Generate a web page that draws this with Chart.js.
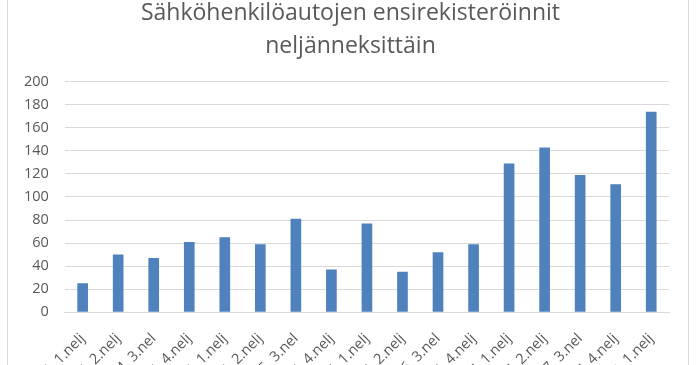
<!DOCTYPE html>
<html>
<head>
<meta charset="utf-8">
<script src="https://cdn.jsdelivr.net/npm/chart.js@4"></script>
<style>
  html, body { margin: 0; padding: 0; background: #fff; overflow: hidden; width: 696px; height: 365px; }
  #frame { position: absolute; left: 7px; top: -6px; width: 680px; height: 440px; border: 1px solid #d9d9d9; }
  #wrap { position: absolute; left: 0; top: 2px; width: 680px; height: 410px; }
</style>
</head>
<body>
<div id="frame"><div id="wrap"><canvas id="myChart"></canvas></div></div>
<script>
// Sähköhenkilöautojen ensirekisteröinnit neljänneksittäin
const quarters = [
  '2014, 1.nelj', '2014, 2.nelj', '2014, 3.nel', '2014, 4.nelj',
  '2015, 1.nelj', '2015, 2.nelj', '2015, 3.nel', '2015, 4.nelj',
  '2016, 1.nelj', '2016, 2.nelj', '2016, 3.nel', '2016, 4.nelj',
  '2017, 1.nelj', '2017, 2.nelj', '2017, 3.nel', '2017, 4.nelj',
  '2018, 1.nelj'
];
const registrations = [25, 50, 47, 61, 65, 59, 81, 37, 77, 35, 52, 59, 129, 143, 119, 111, 174];
const yTicks = [0, 20, 40, 60, 80, 100, 120, 140, 160, 180, 200];

const textGrey = '#595959';

// the title in the original sits a little right of the canvas centre
const titleShift = {
    id: 'titleShift',
    afterLayout(chart) {
        if (chart.titleBlock) chart.titleBlock.left += 24;
    }
};

let ctx = document.getElementById('myChart').getContext('2d');
var chart = new Chart(ctx, {
    type: 'bar',
    data: {
        labels: quarters,
        datasets: [{
            label: 'Ensirekisteröinnit',
            backgroundColor: '#4f81bd',
            borderWidth: 0,
            barPercentage: 0.3,
            categoryPercentage: 1,
            data: registrations
        }]
    },
    options: {
        responsive: true,
        maintainAspectRatio: false,
        animation: false,
        layout: { padding: { left: 0, right: 19, top: 0, bottom: 0 } },
        plugins: {
            legend: { display: false },
            tooltip: { enabled: false },
            title: {
                display: true,
                text: ['Sähköhenkilöautojen ensirekisteröinnit', 'neljänneksittäin'],
                color: textGrey,
                font: { family: 'Open Sans', size: 23, weight: 'normal', lineHeight: 1.43 },
                padding: { top: 0, bottom: 19 }
            }
        },
        scales: {
            y: {
                min: 0,
                max: 200,
                afterBuildTicks: (axis) => { axis.ticks = yTicks.map(v => ({ value: v })); },
                border: { display: false },
                grid: { color: '#d9d9d9', drawTicks: false },
                ticks: { color: textGrey, padding: 16, font: { family: 'Open Sans', size: 14.5 } }
            },
            x: {
                border: { color: '#d9d9d9' },
                grid: { display: false },
                ticks: {
                    color: textGrey,
                    minRotation: 45,
                    maxRotation: 45,
                    autoSkip: false,
                    padding: 10,
                    font: { family: 'Open Sans', size: 14.5 }
                }
            }
        }
    },
    plugins: [titleShift]
});
</script>
</body>
</html>
